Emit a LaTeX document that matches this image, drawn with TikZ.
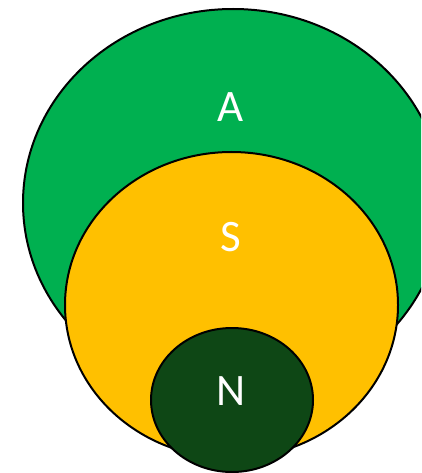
\documentclass[tikz,border=0pt]{standalone}
\usepackage{fontspec}
\setmainfont{Carlito}
\usetikzlibrary{shapes.geometric}
\definecolor{setA}{HTML}{00B050}
\definecolor{setS}{HTML}{FFC000}
\definecolor{setN}{HTML}{0E4715}
\tikzset{
  venn/.style={draw,ellipse,line width=2pt,inner sep=0pt},
  tag/.style={text=white,font=\fontsize{45}{50}\selectfont,inner sep=0pt},
}
\begin{document}
\begin{tikzpicture}[x=1pt,y=-1pt]
  \useasboundingbox (0,0) rectangle (421,473);
  \clip (0,0) rectangle (421,473);
  \node[venn,fill=setA,minimum width=420pt,minimum height=388pt] (A) at (233,203) {};
  \node[venn,fill=setS,minimum width=333pt,minimum height=306pt] (S) at (231.5,305) {};
  \node[venn,fill=setN,minimum width=162pt,minimum height=144pt] (N) at (232,400) {};

  \node[tag] (la) at (231,107) {A};
  \node[tag] (ls) at (231,237) {S};
  \node[tag] (ln) at (231,391) {N};
\end{tikzpicture}
\end{document}
